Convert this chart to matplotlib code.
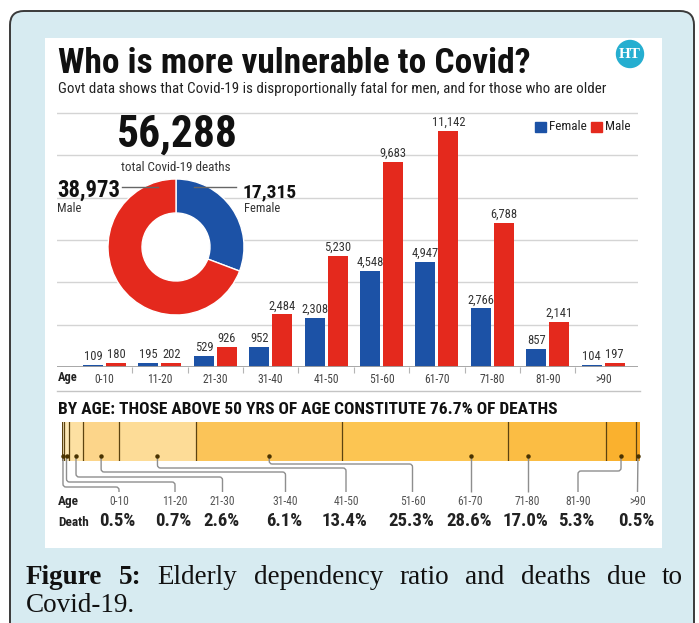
import numpy as np
import matplotlib
matplotlib.use('Agg')
import matplotlib.pyplot as plt
from matplotlib import font_manager
from matplotlib.patches import Rectangle, FancyBboxPatch, Circle, PathPatch
from matplotlib.path import Path

# Covid-19 deaths by age group and sex
ages = ['0-10', '11-20', '21-30', '31-40', '41-50', '51-60', '61-70', '71-80', '81-90', '>90']
female = [109, 195, 529, 952, 2308, 4548, 4947, 2766, 857, 104]
male = [180, 202, 926, 2484, 5230, 9683, 11142, 6788, 2141, 197]

BLUE = '#1c52a6'
RED = '#e4291d'
GRID = '#d4d4d4'
strip_colors = ['#fdedc6', '#fde8b6', '#fde0a2', '#fcd58a', '#fddc97',
                '#fbc458', '#fcc552', '#fbbd44', '#fab12e', '#f9a722']

installed = {f.name for f in font_manager.fontManager.ttflist}


def pick(*names):
    for n in names:
        if n in installed:
            return n
    return 'DejaVu Sans'


COND = pick('Roboto Condensed', 'Liberation Sans Narrow', 'DejaVu Sans Condensed',
            'Open Sans Condensed', 'Liberation Sans')
SERIF = pick('Liberation Serif', 'DejaVu Serif')

W, H = 699, 623
fig = plt.figure(figsize=(W / 100, H / 100), dpi=100)
renderer = fig.canvas.get_renderer()


def fit(t, width):
    w = t.get_window_extent(renderer).width
    t.set_fontsize(t.get_fontsize() * width / w)
    return t


# frame and white panel
bg = fig.add_axes([0, 0, 1, 1], zorder=0)
bg.set_xlim(0, W); bg.set_ylim(H, 0); bg.axis('off')
bg.add_patch(FancyBboxPatch((10, 11), 684, 700, boxstyle='round,pad=0,rounding_size=14',
                            fc='#d7ebf1', ec='#3a3a3a', lw=1.4))
bg.add_patch(Rectangle((45, 38), 617, 510, fc='white', ec='none'))

# grouped bars
base = 367
ppu = (base - 113) / 12000
ax = fig.add_axes([57 / W, 1 - base / H, (638 - 57) / W, (base - 106) / H], zorder=1)
ax.patch.set_visible(False)
x = np.arange(len(ages))
off, bw = 0.207, 0.36
ax.bar(x - off, female, bw, color=BLUE, zorder=2)
ax.bar(x + off, male, bw, color=RED, zorder=2)
ax.set_xlim(-0.857, 9.63)
ax.set_ylim(0, (base - 106) / ppu)
ax.set_yticks(np.arange(2000, 12001, 2000))
ax.grid(axis='y', color=GRID, lw=1)
ax.set_axisbelow(True)
for s in ax.spines.values():
    s.set_visible(False)
ax.axhline(0, color='#a0a0a0', lw=1.3, zorder=3)
ax.set_xticks(x[:-1] + 0.5)
ax.tick_params(axis='x', length=4, color='#b5b5b5', labelbottom=False)
ax.tick_params(axis='y', length=0, labelleft=False)
for xi, f, m in zip(x, female, male):
    for xx, v in ((xi - off, f), (xi + off, m)):
        ax.annotate(f'{v:,}', (xx, v), xytext=(0, 1.5), textcoords='offset points',
                    ha='center', va='bottom', fontsize=9, family=COND, color='#333333')
    ax.text(xi, -0.046, ages[xi], transform=ax.get_xaxis_transform(), ha='center',
            va='center', fontsize=8.3, family=COND, color='#444444')

# donut of totals
tot_f, tot_m = sum(female), sum(male)
total = tot_f + tot_m
cx, cy, r = 176, 247, 68
pa = fig.add_axes([(cx - r) / W, 1 - (cy + r) / H, 2 * r / W, 2 * r / H], zorder=2)
pa.add_patch(Circle((0, 0), 0.5, color='white', zorder=0))
pa.pie([tot_f, tot_m], colors=[BLUE, RED], startangle=90, counterclock=False, radius=1,
       wedgeprops=dict(width=0.5, edgecolor='white', linewidth=1))
pa.set_xlim(-1, 1); pa.set_ylim(-1, 1)
pa.patch.set_visible(False)

# text and annotations in pixel space
ov = fig.add_axes([0, 0, 1, 1], zorder=3)
ov.set_xlim(0, W); ov.set_ylim(H, 0); ov.axis('off')

fit(ov.text(58, 73, 'Who is more vulnerable to Covid?', fontsize=24, fontweight='bold',
            family=COND, color='#111111', va='baseline'), 474)
fit(ov.text(58, 93, 'Govt data shows that Covid-19 is disproportionally fatal for men, '
            'and for those who are older', fontsize=10, family=COND, color='#222222',
            va='baseline'), 545)
ov.add_patch(Circle((630, 54), 13.5, color='#25aed0'))
ov.text(630, 54.5, 'HT', ha='center', va='center', fontsize=11, fontweight='bold',
        family=SERIF, color='white')

fit(ov.text(177, 147, f'{total:,}', fontsize=30, fontweight='bold', family=COND,
            color='#111111', ha='center', va='baseline'), 121)
fit(ov.text(176, 171, 'total Covid-19 deaths', fontsize=9, family=COND, color='#333333',
            ha='center', va='baseline'), 110)
fit(ov.text(57, 197, f'{tot_m:,}', fontsize=14, fontweight='bold', family=COND,
            color='#111111', va='baseline'), 63)
ov.text(57, 212, 'Male', fontsize=9, family=COND, color='#333333', va='baseline')
fit(ov.text(243, 197, f'{tot_f:,}', fontsize=14, fontweight='bold', family=COND,
            color='#111111', va='baseline'), 54)
ov.text(244, 212, 'Female', fontsize=9, family=COND, color='#333333', va='baseline')
ov.plot([122, 158], [187, 187], color='#666666', lw=1)
ov.plot([194, 236], [187, 187], color='#666666', lw=1)

# legend
ov.add_patch(Rectangle((535, 122), 11, 10, color=BLUE))
ov.text(549, 127, 'Female', fontsize=9.5, family=COND, color='#222222', va='center')
ov.add_patch(Rectangle((591, 122), 11, 10, color=RED))
ov.text(605, 127, 'Male', fontsize=9.5, family=COND, color='#222222', va='center')
ov.text(58, 378, 'Age', fontsize=9, fontweight='bold', family=COND, color='#222222',
        va='center')

# share of deaths strip
shares = (np.array(female) + np.array(male)) / total * 100
above50 = shares[5:].sum()
ov.plot([57, 640], [391, 391], color='#c4c4c4', lw=1)
fit(ov.text(58, 414, f'BY AGE: THOSE ABOVE 50 YRS OF AGE CONSTITUTE {above50:.1f}% OF DEATHS',
            fontsize=12, fontweight='bold', family=COND, color='#111111', va='baseline'), 500)

sx0, sx1, sy0, sy1 = 61.5, 639.5, 422, 461
st = fig.add_axes([sx0 / W, 1 - sy1 / H, (sx1 - sx0) / W, (sy1 - sy0) / H], zorder=1)
left = np.concatenate([[0], np.cumsum(shares)[:-1]])
st.barh(0.5, shares, left=left, height=1, color=strip_colors, edgecolor='none')
st.set_xlim(0, 100); st.set_ylim(0, 1); st.axis('off')
for b in left:
    st.axvline(b, color='#5c4310', lw=0.9)

label_x = [119, 175, 222.5, 285.5, 346, 412.5, 470.5, 527.5, 578, 637.5]
levels = [487, 482, 477, 472, 468, 464, None, None, 471, None]
dot_y, end_y, rr = 456, 492, 3
for i, s in enumerate(shares):
    a = sx0 + left[i] / 100 * (sx1 - sx0)
    b = sx0 + (left[i] + s) / 100 * (sx1 - sx0)
    lx = label_x[i]
    dx = lx if a + 3 < lx < b - 3 else (a + b) / 2
    ov.plot([dx], [dot_y], 'o', ms=2.2, color='#4a3300', zorder=5)
    lev = levels[i]
    if lev is None or abs(lx - dx) < 1:
        verts = [(dx, dot_y), (lx, end_y)]
        codes = [Path.MOVETO, Path.LINETO]
    else:
        sg = np.sign(lx - dx)
        verts = [(dx, dot_y), (dx, lev - rr), (dx, lev), (dx + sg * rr, lev),
                 (lx - sg * rr, lev), (lx, lev), (lx, lev + rr), (lx, end_y)]
        codes = [Path.MOVETO, Path.LINETO, Path.CURVE3, Path.CURVE3,
                 Path.LINETO, Path.CURVE3, Path.CURVE3, Path.LINETO]
    ov.add_patch(PathPatch(Path(verts, codes), fc='none', ec='#8e8e8e', lw=1, zorder=4))
    ov.text(lx, 505, ages[i], ha='center', va='baseline', fontsize=8.3, family=COND,
            color='#555555')
    ov.text(lx - 1.5, 526, f'{s:.1f}%', ha='center', va='baseline', fontsize=13.5,
            fontweight='bold', family=COND, color='#222222')
ov.text(58, 505, 'Age', fontsize=9.5, fontweight='bold', family=COND, color='#222222',
        va='baseline')
ov.text(58, 526, 'Death', fontsize=9.5, fontweight='bold', family=COND, color='#222222',
        va='baseline')

# caption, justified first line
words = [('Figure', 'bold'), ('5:', 'bold'), ('Elderly', 'normal'), ('dependency', 'normal'),
         ('ratio', 'normal'), ('and', 'normal'), ('deaths', 'normal'), ('due', 'normal'),
         ('to', 'normal')]
ts = [ov.text(0, 584, w, fontsize=19.5, fontweight=wt, family=SERIF, color='#111111',
              va='baseline') for w, wt in words]
widths = [t.get_window_extent(renderer).width for t in ts]
gap = (683 - 26 - sum(widths)) / (len(ts) - 1)
xpos = 26
for t, w in zip(ts, widths):
    t.set_x(xpos)
    xpos += w + gap
ov.text(26, 612, 'Covid-19.', fontsize=19.5, family=SERIF, color='#111111', va='baseline')

fig.savefig('out.png', dpi=100)
